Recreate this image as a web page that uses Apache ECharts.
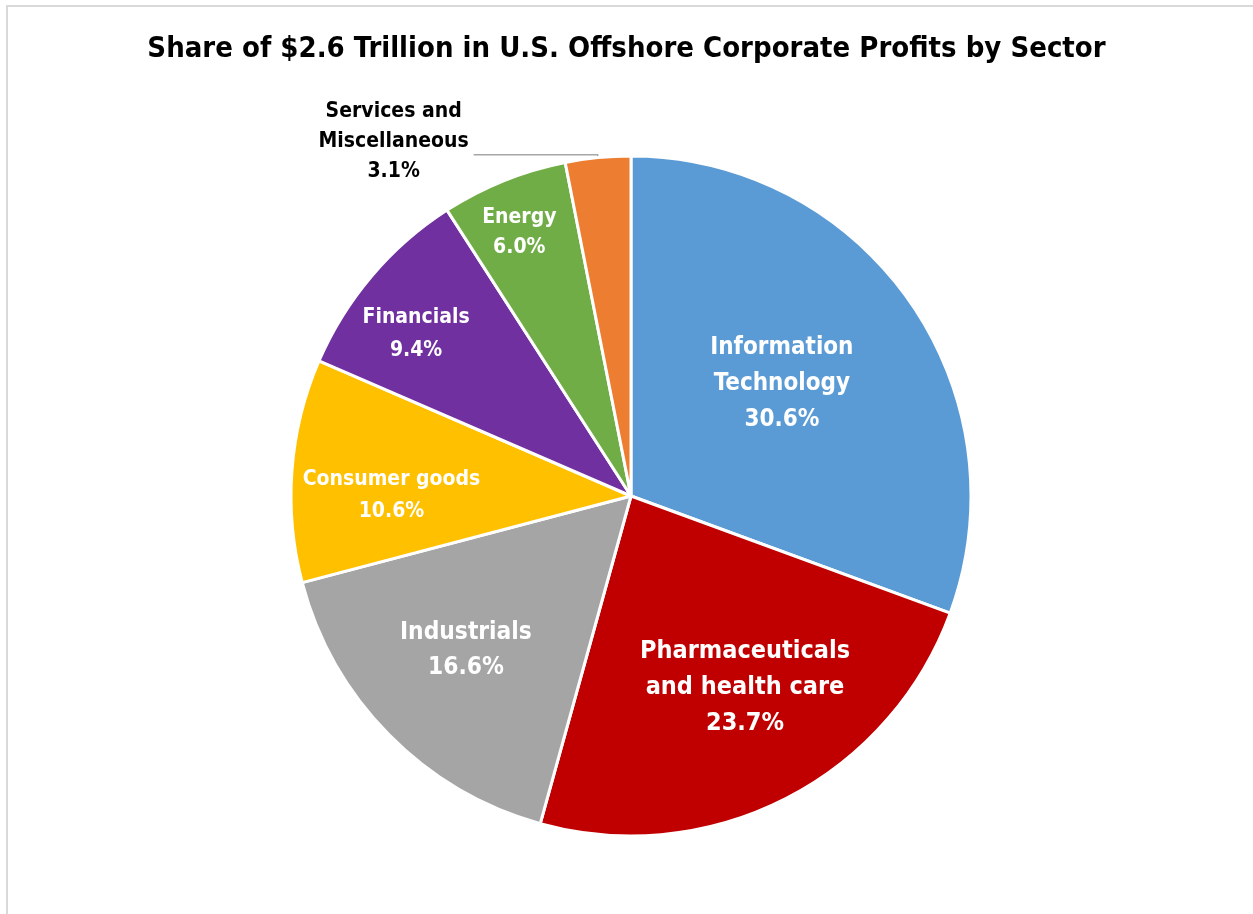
<!DOCTYPE html>
<html>
<head>
<meta charset="utf-8">
<script src="https://cdn.jsdelivr.net/npm/echarts@6/dist/echarts.min.js"></script>
<style>
html,body{margin:0;padding:0;background:#fff;}
#c{width:1253px;height:914px;}
</style>
</head>
<body>
<div id="c"></div>
<script>
var titleText = 'Share of $2.6 Trillion in U.S. Offshore Corporate Profits by Sector';
var categories = ['Information\nTechnology', 'Pharmaceuticals\nand health care', 'Industrials', 'Consumer goods', 'Financials', 'Energy', 'Services and\nMiscellaneous'];
var shares = [30.6, 23.7, 16.6, 10.6, 9.4, 6.0, 3.1];
var colors = ['#5B9BD5', '#C00000', '#A5A5A5', '#FFC000', '#7030A0', '#70AD47', '#ED7D31'];

var FONT = '"Liberation Sans Narrow", "Arial Narrow", "DejaVu Sans Condensed", sans-serif';

// label styling per slice (position tweaks and sizes)
var labelStyles = [
  {fontSize: 24, lineHeight: 36, offset: [9, -13]},
  {fontSize: 25, lineHeight: 36, offset: [35, 38]},
  {fontSize: 24.3, lineHeight: 35, offset: [-42, 33]},
  {fontSize: 21, lineHeight: 32, offset: [-67, 13]},
  {fontSize: 21, lineHeight: 33, offset: [-83, -50]},
  {fontSize: 21, lineHeight: 30, offset: [-47, -103]},
  null
];

var data = categories.map(function (name, i) {
  var item = {name: name, value: shares[i], itemStyle: {color: colors[i]}};
  var ls = labelStyles[i];
  if (ls) {
    item.label = {
      position: 'inside',
      color: '#fff',
      fontSize: ls.fontSize,
      lineHeight: ls.lineHeight,
      offset: ls.offset,
      formatter: function (p) { return p.name + '\n' + p.value.toFixed(1) + '%'; }
    };
    item.labelLine = {show: false};
  } else {
    item.label = {
      position: 'outside',
      color: '#000',
      padding: [0, 0, 26, 0],
      formatter: function (p) {
        return p.name.split('\n').map(function (s) { return '{a|' + s + '}'; }).join('\n') + '\n{a|' + p.value.toFixed(1) + '%}';
      },
      rich: {a: {fontFamily: FONT, fontWeight: 'bold', fontSize: 21, lineHeight: 30, width: 150, align: 'center', color: '#000'}}
    };
    item.labelLine = {show: true, length: 3, length2: 124, lineStyle: {color: '#a6a6a6', width: 1.5}};
  }
  return item;
});

var chart = echarts.init(document.getElementById('c'));
chart.setOption({
  animation: false,
  backgroundColor: '#fff',
  title: {
    text: titleText,
    left: 'center',
    top: 30,
    textStyle: {fontFamily: FONT, fontWeight: 'bold', fontSize: 29, color: '#000'}
  },
  graphic: [{
    type: 'rect',
    shape: {x: 7, y: 6, width: 1400, height: 1000},
    style: {fill: 'none', stroke: '#d9d9d9', lineWidth: 2},
    silent: true
  }],
  series: [{
    type: 'pie',
    center: [631, 496],
    radius: [0, 340],
    startAngle: 90,
    clockwise: true,
    avoidLabelOverlap: false,
    itemStyle: {borderColor: '#fff', borderWidth: 3},
    label: {fontFamily: FONT, fontWeight: 'bold'},
    emphasis: {disabled: true},
    data: data
  }]
});
</script>
</body>
</html>
